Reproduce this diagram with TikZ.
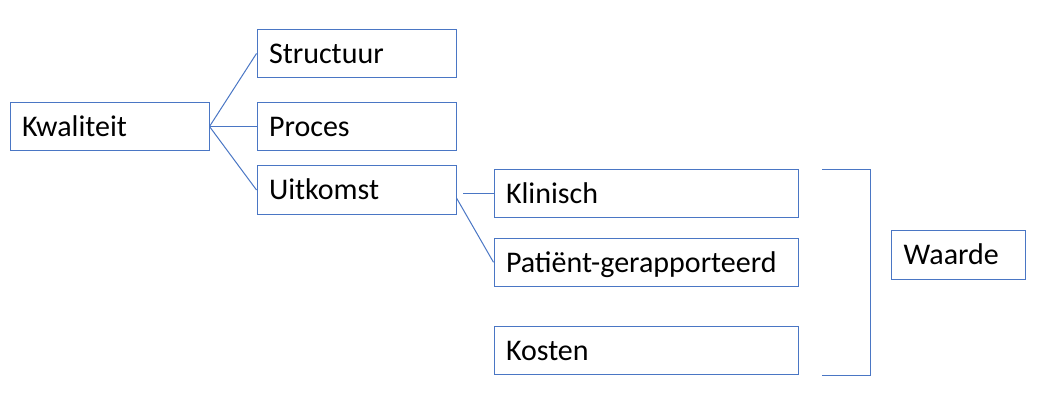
\documentclass[tikz,border=0pt]{standalone}
\usepackage{fontspec}
\setmainfont{Carlito}
\definecolor{officeblue}{HTML}{4A76C4}
\begin{document}
\begin{tikzpicture}[x=1pt,y=-1pt,
  box/.style={draw=officeblue, line width=1pt, rectangle, inner xsep=12pt, inner ysep=0pt,
    align=left, font=\fontsize{30}{36}\selectfont, text height=21pt, text depth=1.5pt, anchor=center},
  conn/.style={draw=officeblue, line width=1pt}]
\useasboundingbox (0,0) rectangle (1046,406);
\node[box, text width=175pt, minimum height=48pt] (kw) at (109.5,126.5) {Kwaliteit};
\node[box, text width=175pt, minimum height=48.5pt] (st) at (356.5,53.5) {Structuur};
\node[box, text width=175pt, minimum height=48.5pt] (pr) at (356.5,126.5) {Proces};
\node[box, text width=175pt, minimum height=48.5pt] (ui) at (356.5,190) {Uitkomst};
\node[box, text width=280pt, minimum height=48.5pt] (kl) at (646,193.3) {Klinisch};
\node[box, text width=280pt, minimum height=48.5pt] (pa) at (646,262.3) {Patiënt-gerapporteerd};
\node[box, text width=280pt, minimum height=48.5pt] (ko) at (646,350.5) {Kosten};
\node[box, text width=110pt, minimum height=48.5pt] (wa) at (958.7,254.8) {Waarde};
\draw[conn] (kw.east) -- (st.west);
\draw[conn] (kw.east) -- (pr.west);
\draw[conn] (kw.east) -- (ui.west);
\coordinate (g) at (463,193.3);
\draw[conn] (g) -- (kl.west);
\draw[conn] ([yshift=-8pt]ui.east) -- (pa.west);
\coordinate (b1) at (822,170);
\coordinate (b2) at (870,170);
\coordinate (b3) at (870,375);
\coordinate (b4) at (822,375);
\draw[conn] (b1) -- (b2) -- (b3) -- (b4);
\end{tikzpicture}
\end{document}
